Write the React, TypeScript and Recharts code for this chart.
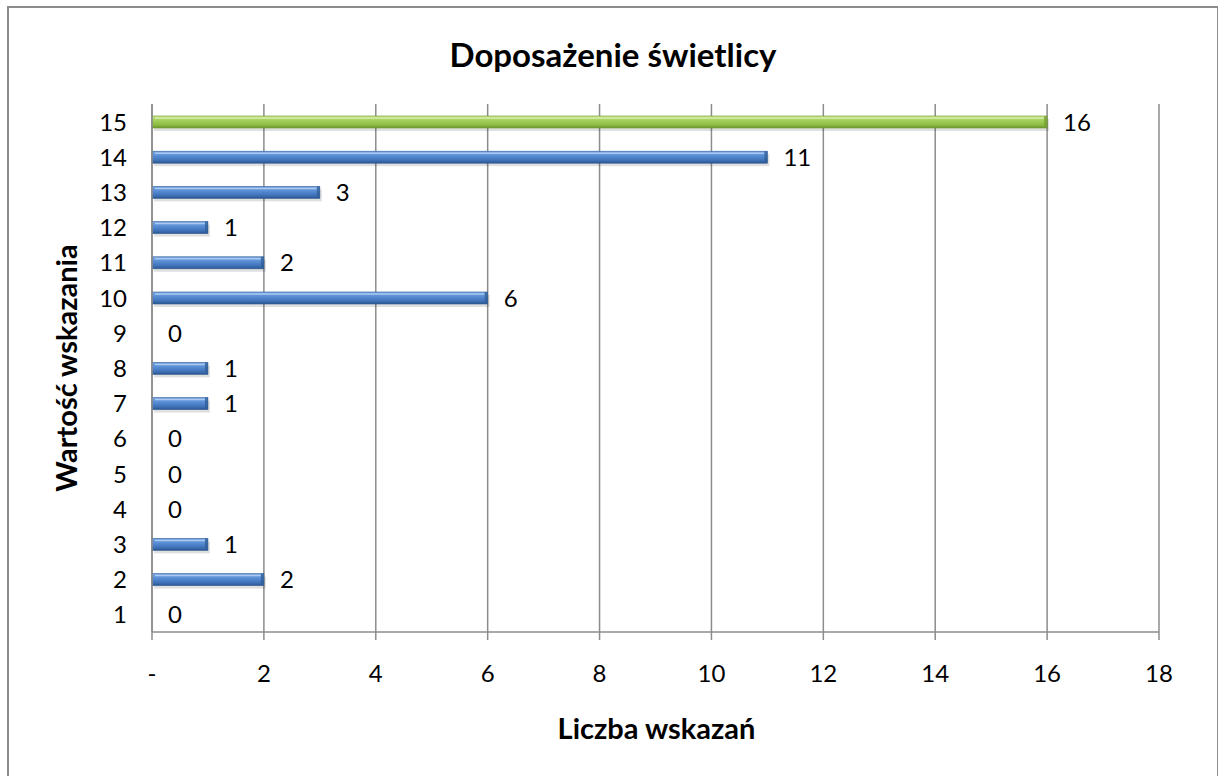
import React from 'react';
import { BarChart, Bar, XAxis, YAxis, CartesianGrid, Cell, LabelList } from 'recharts';

const categories = ['1', '2', '3', '4', '5', '6', '7', '8', '9', '10', '11', '12', '13', '14', '15'];
const counts = [0, 2, 1, 0, 0, 0, 1, 1, 0, 6, 2, 1, 3, 11, 16];
const xTicks = [0, 2, 4, 6, 8, 10, 12, 14, 16, 18];
const highlight = '15';

const data = categories.map((c, i) => ({ name: c, value: counts[i] }));

const FONT = 'Lato, "Open Sans", sans-serif';
const GRID = '#8c8c8c';

function BevelBar(props: any) {
  const { x, y, width, height, payload } = props;
  if (!width || width <= 0) return null;
  const green = payload && payload.name === highlight;
  const grad = green ? 'url(#gGreen)' : 'url(#gBlue)';
  const edge = green ? '#6e9a2e' : '#2d5b93';
  const light = green ? '#d6edaa' : '#a9c8f0';
  return (
    <g>
      <rect x={x + 2} y={y + 3} width={width} height={height} fill="#000" opacity={0.12} />
      <rect x={x} y={y} width={width} height={height} fill={grad} stroke={edge} strokeWidth={0.6} />
      <line x1={x + 3} y1={y + 2} x2={x + width - 3} y2={y + 2} stroke={light} strokeWidth={1.5} />
      <polygon points={`${x + width - 3},${y} ${x + width},${y} ${x + width},${y + height} ${x + width - 3},${y + height - 3}`} fill={edge} opacity={0.7} />
    </g>
  );
}

function XTick(props: any) {
  const { x, y, payload } = props;
  return (
    <text x={x} y={y + 40} textAnchor="middle" fontSize={24} fontFamily={FONT} fill="#000">
      {payload.value === 0 ? '-' : payload.value}
    </text>
  );
}

function YTick(props: any) {
  const { x, y, payload } = props;
  return (
    <text x={x - 23} y={y + 9} textAnchor="end" fontSize={24} fontFamily={FONT} fill="#000">
      {payload.value}
    </text>
  );
}

export default function App() {
  return (
    <div style={{ position: 'absolute', left: 7, top: 6, width: 1208, height: 790, border: '2px solid #8c8c8c', background: '#fff', fontFamily: FONT }}>
      <div style={{ position: 'absolute', left: 0, width: 1208, top: 26, textAlign: 'center', fontSize: 33, lineHeight: '40px', fontWeight: 700, color: '#000' }}>
        Doposażenie świetlicy
      </div>
      <div style={{ position: 'absolute', left: 144, width: 1007, top: 702, textAlign: 'center', fontSize: 29, lineHeight: '35px', fontWeight: 700, color: '#000' }}>
        Liczba wskazań
      </div>
      <div style={{ position: 'absolute', left: 56, top: 360, width: 0, height: 0 }}>
        <div style={{ position: 'absolute', transform: 'translate(-50%, -50%) rotate(-90deg)', whiteSpace: 'nowrap', fontSize: 29, lineHeight: '35px', fontWeight: 700, color: '#000' }}>
          Wartość wskazania
        </div>
      </div>
      <BarChart
        width={1206}
        height={766}
        data={data}
        layout="vertical"
        margin={{ top: 96, right: 56, bottom: 82, left: 83 }}
        style={{ position: 'absolute', left: 0, top: 0 }}
      >
        <defs>
          <linearGradient id="gBlue" x1="0" y1="0" x2="0" y2="1">
            <stop offset="0" stopColor="#7aa7e2" />
            <stop offset="0.35" stopColor="#5b8fd6" />
            <stop offset="0.75" stopColor="#3f72b8" />
            <stop offset="1" stopColor="#2b568f" />
          </linearGradient>
          <linearGradient id="gGreen" x1="0" y1="0" x2="0" y2="1">
            <stop offset="0" stopColor="#c4e388" />
            <stop offset="0.35" stopColor="#a6d15c" />
            <stop offset="0.75" stopColor="#8cbb43" />
            <stop offset="1" stopColor="#6b9630" />
          </linearGradient>
        </defs>
        <CartesianGrid horizontal={false} stroke={GRID} strokeWidth={1.5} />
        <XAxis
          type="number"
          domain={[0, 18]}
          ticks={xTicks}
          interval={0}
          height={60}
          stroke={GRID}
          strokeWidth={1.5}
          tickSize={8}
          tick={<XTick />}
        />
        <YAxis
          type="category"
          dataKey="name"
          reversed
          width={60}
          stroke={GRID}
          strokeWidth={1.5}
          tickLine={false}
          tickSize={0}
          tick={<YTick />}
          interval={0}
        />
        <Bar dataKey="value" barSize={12} isAnimationActive={false} shape={<BevelBar />}>
          {data.map((d) => (
            <Cell key={d.name} fill={d.name === highlight ? '#9bc850' : '#4f81bd'} />
          ))}
          <LabelList dataKey="value" position="right" offset={16} fontSize={24} fontFamily={FONT} fill="#000" />
        </Bar>
      </BarChart>
    </div>
  );
}
